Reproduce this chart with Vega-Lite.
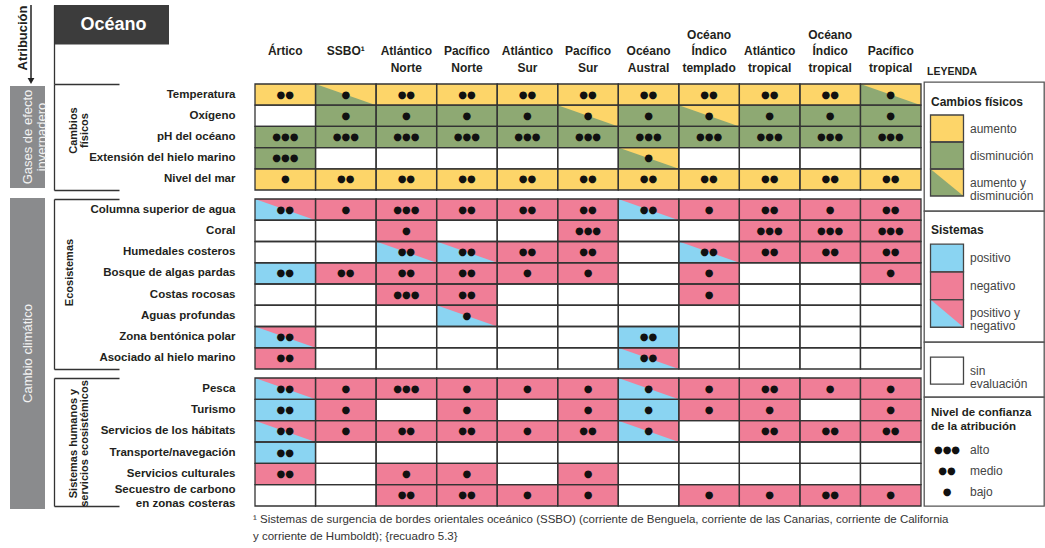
{
"$schema": "https://vega.github.io/schema/vega-lite/v6.json",
"padding": {"left": 10, "top": 4, "right": 0, "bottom": 0},
"background": "white",
"title": {"text": ["¹ Sistemas de surgencia de bordes orientales oceánico (SSBO) (corriente de Benguela, corriente de las Canarias, corriente de California", "y corriente de Humboldt); {recuadro 5.3}"], "orient": "bottom", "anchor": "start", "frame": "group", "fontSize": 11.5, "fontWeight": "normal", "color": "#333333", "offset": 5, "lineHeight": 17, "dx": 243},
"config": {
  "view": {"stroke": null},
  "font": "Liberation Sans",
  "axis": {"labelFont": "Liberation Sans", "labelColor": "#231f20", "labelFontWeight": "bold", "ticks": false, "domain": false, "tickSize": 0, "grid": false},
  "text": {"color": "#231f20", "font": "Liberation Sans"},
  "title": {"font": "Liberation Sans"}
},
"datasets": {
  "niveles": [{"confianza": "alto", "puntos": "●●●"}, {"confianza": "medio", "puntos": "●●"}, {"confianza": "bajo", "puntos": "●"}],
  "fisicos": [
    {"oceano":"Ártico","elemento":"Temperatura","estado":"aumento","confianza":"medio"},
    {"oceano":"SSBO¹","elemento":"Temperatura","estado":"aumento y disminución","confianza":"bajo"},
    {"oceano":"Atlántico Norte","elemento":"Temperatura","estado":"aumento","confianza":"medio"},
    {"oceano":"Pacífico Norte","elemento":"Temperatura","estado":"aumento","confianza":"medio"},
    {"oceano":"Atlántico Sur","elemento":"Temperatura","estado":"aumento","confianza":"medio"},
    {"oceano":"Pacífico Sur","elemento":"Temperatura","estado":"aumento","confianza":"medio"},
    {"oceano":"Océano Austral","elemento":"Temperatura","estado":"aumento","confianza":"medio"},
    {"oceano":"Océano Índico templado","elemento":"Temperatura","estado":"aumento","confianza":"medio"},
    {"oceano":"Atlántico tropical","elemento":"Temperatura","estado":"aumento","confianza":"medio"},
    {"oceano":"Océano Índico tropical","elemento":"Temperatura","estado":"aumento","confianza":"medio"},
    {"oceano":"Pacífico tropical","elemento":"Temperatura","estado":"aumento y disminución","confianza":"bajo"},
    {"oceano":"Ártico","elemento":"Oxígeno","estado":"sin evaluación"},
    {"oceano":"SSBO¹","elemento":"Oxígeno","estado":"disminución","confianza":"bajo"},
    {"oceano":"Atlántico Norte","elemento":"Oxígeno","estado":"disminución","confianza":"bajo"},
    {"oceano":"Pacífico Norte","elemento":"Oxígeno","estado":"disminución","confianza":"bajo"},
    {"oceano":"Atlántico Sur","elemento":"Oxígeno","estado":"disminución","confianza":"bajo"},
    {"oceano":"Pacífico Sur","elemento":"Oxígeno","estado":"aumento y disminución","confianza":"bajo"},
    {"oceano":"Océano Austral","elemento":"Oxígeno","estado":"disminución","confianza":"bajo"},
    {"oceano":"Océano Índico templado","elemento":"Oxígeno","estado":"aumento y disminución","confianza":"bajo"},
    {"oceano":"Atlántico tropical","elemento":"Oxígeno","estado":"disminución","confianza":"bajo"},
    {"oceano":"Océano Índico tropical","elemento":"Oxígeno","estado":"disminución","confianza":"bajo"},
    {"oceano":"Pacífico tropical","elemento":"Oxígeno","estado":"disminución","confianza":"bajo"},
    {"oceano":"Ártico","elemento":"pH del océano","estado":"disminución","confianza":"alto"},
    {"oceano":"SSBO¹","elemento":"pH del océano","estado":"disminución","confianza":"alto"},
    {"oceano":"Atlántico Norte","elemento":"pH del océano","estado":"disminución","confianza":"alto"},
    {"oceano":"Pacífico Norte","elemento":"pH del océano","estado":"disminución","confianza":"alto"},
    {"oceano":"Atlántico Sur","elemento":"pH del océano","estado":"disminución","confianza":"alto"},
    {"oceano":"Pacífico Sur","elemento":"pH del océano","estado":"disminución","confianza":"alto"},
    {"oceano":"Océano Austral","elemento":"pH del océano","estado":"disminución","confianza":"alto"},
    {"oceano":"Océano Índico templado","elemento":"pH del océano","estado":"disminución","confianza":"alto"},
    {"oceano":"Atlántico tropical","elemento":"pH del océano","estado":"disminución","confianza":"alto"},
    {"oceano":"Océano Índico tropical","elemento":"pH del océano","estado":"disminución","confianza":"alto"},
    {"oceano":"Pacífico tropical","elemento":"pH del océano","estado":"disminución","confianza":"alto"},
    {"oceano":"Ártico","elemento":"Extensión del hielo marino","estado":"disminución","confianza":"alto"},
    {"oceano":"SSBO¹","elemento":"Extensión del hielo marino","estado":"sin evaluación"},
    {"oceano":"Atlántico Norte","elemento":"Extensión del hielo marino","estado":"sin evaluación"},
    {"oceano":"Pacífico Norte","elemento":"Extensión del hielo marino","estado":"sin evaluación"},
    {"oceano":"Atlántico Sur","elemento":"Extensión del hielo marino","estado":"sin evaluación"},
    {"oceano":"Pacífico Sur","elemento":"Extensión del hielo marino","estado":"sin evaluación"},
    {"oceano":"Océano Austral","elemento":"Extensión del hielo marino","estado":"aumento y disminución","confianza":"bajo"},
    {"oceano":"Océano Índico templado","elemento":"Extensión del hielo marino","estado":"sin evaluación"},
    {"oceano":"Atlántico tropical","elemento":"Extensión del hielo marino","estado":"sin evaluación"},
    {"oceano":"Océano Índico tropical","elemento":"Extensión del hielo marino","estado":"sin evaluación"},
    {"oceano":"Pacífico tropical","elemento":"Extensión del hielo marino","estado":"sin evaluación"},
    {"oceano":"Ártico","elemento":"Nivel del mar","estado":"aumento","confianza":"bajo"},
    {"oceano":"SSBO¹","elemento":"Nivel del mar","estado":"aumento","confianza":"medio"},
    {"oceano":"Atlántico Norte","elemento":"Nivel del mar","estado":"aumento","confianza":"medio"},
    {"oceano":"Pacífico Norte","elemento":"Nivel del mar","estado":"aumento","confianza":"medio"},
    {"oceano":"Atlántico Sur","elemento":"Nivel del mar","estado":"aumento","confianza":"medio"},
    {"oceano":"Pacífico Sur","elemento":"Nivel del mar","estado":"aumento","confianza":"medio"},
    {"oceano":"Océano Austral","elemento":"Nivel del mar","estado":"aumento","confianza":"medio"},
    {"oceano":"Océano Índico templado","elemento":"Nivel del mar","estado":"aumento","confianza":"medio"},
    {"oceano":"Atlántico tropical","elemento":"Nivel del mar","estado":"aumento","confianza":"medio"},
    {"oceano":"Océano Índico tropical","elemento":"Nivel del mar","estado":"aumento","confianza":"medio"},
    {"oceano":"Pacífico tropical","elemento":"Nivel del mar","estado":"aumento","confianza":"medio"}
  ],
  "ecosistemas": [
    {"oceano":"Ártico","elemento":"Columna superior de agua","estado":"positivo y negativo","confianza":"medio"},
    {"oceano":"SSBO¹","elemento":"Columna superior de agua","estado":"negativo","confianza":"bajo"},
    {"oceano":"Atlántico Norte","elemento":"Columna superior de agua","estado":"negativo","confianza":"alto"},
    {"oceano":"Pacífico Norte","elemento":"Columna superior de agua","estado":"negativo","confianza":"medio"},
    {"oceano":"Atlántico Sur","elemento":"Columna superior de agua","estado":"negativo","confianza":"medio"},
    {"oceano":"Pacífico Sur","elemento":"Columna superior de agua","estado":"negativo","confianza":"medio"},
    {"oceano":"Océano Austral","elemento":"Columna superior de agua","estado":"positivo y negativo","confianza":"medio"},
    {"oceano":"Océano Índico templado","elemento":"Columna superior de agua","estado":"negativo","confianza":"bajo"},
    {"oceano":"Atlántico tropical","elemento":"Columna superior de agua","estado":"negativo","confianza":"medio"},
    {"oceano":"Océano Índico tropical","elemento":"Columna superior de agua","estado":"negativo","confianza":"bajo"},
    {"oceano":"Pacífico tropical","elemento":"Columna superior de agua","estado":"negativo","confianza":"medio"},
    {"oceano":"Ártico","elemento":"Coral","estado":"sin evaluación"},
    {"oceano":"SSBO¹","elemento":"Coral","estado":"sin evaluación"},
    {"oceano":"Atlántico Norte","elemento":"Coral","estado":"negativo","confianza":"bajo"},
    {"oceano":"Pacífico Norte","elemento":"Coral","estado":"sin evaluación"},
    {"oceano":"Atlántico Sur","elemento":"Coral","estado":"sin evaluación"},
    {"oceano":"Pacífico Sur","elemento":"Coral","estado":"negativo","confianza":"alto"},
    {"oceano":"Océano Austral","elemento":"Coral","estado":"sin evaluación"},
    {"oceano":"Océano Índico templado","elemento":"Coral","estado":"sin evaluación"},
    {"oceano":"Atlántico tropical","elemento":"Coral","estado":"negativo","confianza":"alto"},
    {"oceano":"Océano Índico tropical","elemento":"Coral","estado":"negativo","confianza":"alto"},
    {"oceano":"Pacífico tropical","elemento":"Coral","estado":"negativo","confianza":"alto"},
    {"oceano":"Ártico","elemento":"Humedales costeros","estado":"sin evaluación"},
    {"oceano":"SSBO¹","elemento":"Humedales costeros","estado":"sin evaluación"},
    {"oceano":"Atlántico Norte","elemento":"Humedales costeros","estado":"positivo y negativo","confianza":"medio"},
    {"oceano":"Pacífico Norte","elemento":"Humedales costeros","estado":"positivo y negativo","confianza":"medio"},
    {"oceano":"Atlántico Sur","elemento":"Humedales costeros","estado":"negativo","confianza":"medio"},
    {"oceano":"Pacífico Sur","elemento":"Humedales costeros","estado":"negativo","confianza":"medio"},
    {"oceano":"Océano Austral","elemento":"Humedales costeros","estado":"sin evaluación"},
    {"oceano":"Océano Índico templado","elemento":"Humedales costeros","estado":"positivo y negativo","confianza":"medio"},
    {"oceano":"Atlántico tropical","elemento":"Humedales costeros","estado":"negativo","confianza":"medio"},
    {"oceano":"Océano Índico tropical","elemento":"Humedales costeros","estado":"negativo","confianza":"medio"},
    {"oceano":"Pacífico tropical","elemento":"Humedales costeros","estado":"negativo","confianza":"medio"},
    {"oceano":"Ártico","elemento":"Bosque de algas pardas","estado":"positivo","confianza":"medio"},
    {"oceano":"SSBO¹","elemento":"Bosque de algas pardas","estado":"negativo","confianza":"medio"},
    {"oceano":"Atlántico Norte","elemento":"Bosque de algas pardas","estado":"negativo","confianza":"medio"},
    {"oceano":"Pacífico Norte","elemento":"Bosque de algas pardas","estado":"negativo","confianza":"medio"},
    {"oceano":"Atlántico Sur","elemento":"Bosque de algas pardas","estado":"negativo","confianza":"bajo"},
    {"oceano":"Pacífico Sur","elemento":"Bosque de algas pardas","estado":"negativo","confianza":"bajo"},
    {"oceano":"Océano Austral","elemento":"Bosque de algas pardas","estado":"sin evaluación"},
    {"oceano":"Océano Índico templado","elemento":"Bosque de algas pardas","estado":"negativo","confianza":"bajo"},
    {"oceano":"Atlántico tropical","elemento":"Bosque de algas pardas","estado":"sin evaluación"},
    {"oceano":"Océano Índico tropical","elemento":"Bosque de algas pardas","estado":"sin evaluación"},
    {"oceano":"Pacífico tropical","elemento":"Bosque de algas pardas","estado":"negativo","confianza":"bajo"},
    {"oceano":"Ártico","elemento":"Costas rocosas","estado":"sin evaluación"},
    {"oceano":"SSBO¹","elemento":"Costas rocosas","estado":"sin evaluación"},
    {"oceano":"Atlántico Norte","elemento":"Costas rocosas","estado":"negativo","confianza":"alto"},
    {"oceano":"Pacífico Norte","elemento":"Costas rocosas","estado":"negativo","confianza":"medio"},
    {"oceano":"Atlántico Sur","elemento":"Costas rocosas","estado":"sin evaluación"},
    {"oceano":"Pacífico Sur","elemento":"Costas rocosas","estado":"sin evaluación"},
    {"oceano":"Océano Austral","elemento":"Costas rocosas","estado":"sin evaluación"},
    {"oceano":"Océano Índico templado","elemento":"Costas rocosas","estado":"negativo","confianza":"bajo"},
    {"oceano":"Atlántico tropical","elemento":"Costas rocosas","estado":"sin evaluación"},
    {"oceano":"Océano Índico tropical","elemento":"Costas rocosas","estado":"sin evaluación"},
    {"oceano":"Pacífico tropical","elemento":"Costas rocosas","estado":"sin evaluación"},
    {"oceano":"Ártico","elemento":"Aguas profundas","estado":"sin evaluación"},
    {"oceano":"SSBO¹","elemento":"Aguas profundas","estado":"sin evaluación"},
    {"oceano":"Atlántico Norte","elemento":"Aguas profundas","estado":"sin evaluación"},
    {"oceano":"Pacífico Norte","elemento":"Aguas profundas","estado":"positivo y negativo","confianza":"bajo"},
    {"oceano":"Atlántico Sur","elemento":"Aguas profundas","estado":"sin evaluación"},
    {"oceano":"Pacífico Sur","elemento":"Aguas profundas","estado":"sin evaluación"},
    {"oceano":"Océano Austral","elemento":"Aguas profundas","estado":"sin evaluación"},
    {"oceano":"Océano Índico templado","elemento":"Aguas profundas","estado":"sin evaluación"},
    {"oceano":"Atlántico tropical","elemento":"Aguas profundas","estado":"sin evaluación"},
    {"oceano":"Océano Índico tropical","elemento":"Aguas profundas","estado":"sin evaluación"},
    {"oceano":"Pacífico tropical","elemento":"Aguas profundas","estado":"sin evaluación"},
    {"oceano":"Ártico","elemento":"Zona bentónica polar","estado":"positivo y negativo","confianza":"medio"},
    {"oceano":"SSBO¹","elemento":"Zona bentónica polar","estado":"sin evaluación"},
    {"oceano":"Atlántico Norte","elemento":"Zona bentónica polar","estado":"sin evaluación"},
    {"oceano":"Pacífico Norte","elemento":"Zona bentónica polar","estado":"sin evaluación"},
    {"oceano":"Atlántico Sur","elemento":"Zona bentónica polar","estado":"sin evaluación"},
    {"oceano":"Pacífico Sur","elemento":"Zona bentónica polar","estado":"sin evaluación"},
    {"oceano":"Océano Austral","elemento":"Zona bentónica polar","estado":"positivo","confianza":"medio"},
    {"oceano":"Océano Índico templado","elemento":"Zona bentónica polar","estado":"sin evaluación"},
    {"oceano":"Atlántico tropical","elemento":"Zona bentónica polar","estado":"sin evaluación"},
    {"oceano":"Océano Índico tropical","elemento":"Zona bentónica polar","estado":"sin evaluación"},
    {"oceano":"Pacífico tropical","elemento":"Zona bentónica polar","estado":"sin evaluación"},
    {"oceano":"Ártico","elemento":"Asociado al hielo marino","estado":"negativo","confianza":"medio"},
    {"oceano":"SSBO¹","elemento":"Asociado al hielo marino","estado":"sin evaluación"},
    {"oceano":"Atlántico Norte","elemento":"Asociado al hielo marino","estado":"sin evaluación"},
    {"oceano":"Pacífico Norte","elemento":"Asociado al hielo marino","estado":"sin evaluación"},
    {"oceano":"Atlántico Sur","elemento":"Asociado al hielo marino","estado":"sin evaluación"},
    {"oceano":"Pacífico Sur","elemento":"Asociado al hielo marino","estado":"sin evaluación"},
    {"oceano":"Océano Austral","elemento":"Asociado al hielo marino","estado":"positivo y negativo","confianza":"medio"},
    {"oceano":"Océano Índico templado","elemento":"Asociado al hielo marino","estado":"sin evaluación"},
    {"oceano":"Atlántico tropical","elemento":"Asociado al hielo marino","estado":"sin evaluación"},
    {"oceano":"Océano Índico tropical","elemento":"Asociado al hielo marino","estado":"sin evaluación"},
    {"oceano":"Pacífico tropical","elemento":"Asociado al hielo marino","estado":"sin evaluación"}
  ],
  "humanos": [
    {"oceano":"Ártico","elemento":"Pesca","estado":"positivo y negativo","confianza":"medio"},
    {"oceano":"SSBO¹","elemento":"Pesca","estado":"negativo","confianza":"bajo"},
    {"oceano":"Atlántico Norte","elemento":"Pesca","estado":"negativo","confianza":"alto"},
    {"oceano":"Pacífico Norte","elemento":"Pesca","estado":"negativo","confianza":"bajo"},
    {"oceano":"Atlántico Sur","elemento":"Pesca","estado":"negativo","confianza":"bajo"},
    {"oceano":"Pacífico Sur","elemento":"Pesca","estado":"negativo","confianza":"bajo"},
    {"oceano":"Océano Austral","elemento":"Pesca","estado":"positivo y negativo","confianza":"bajo"},
    {"oceano":"Océano Índico templado","elemento":"Pesca","estado":"negativo","confianza":"bajo"},
    {"oceano":"Atlántico tropical","elemento":"Pesca","estado":"negativo","confianza":"medio"},
    {"oceano":"Océano Índico tropical","elemento":"Pesca","estado":"negativo","confianza":"bajo"},
    {"oceano":"Pacífico tropical","elemento":"Pesca","estado":"negativo","confianza":"bajo"},
    {"oceano":"Ártico","elemento":"Turismo","estado":"positivo","confianza":"medio"},
    {"oceano":"SSBO¹","elemento":"Turismo","estado":"negativo","confianza":"bajo"},
    {"oceano":"Atlántico Norte","elemento":"Turismo","estado":"sin evaluación"},
    {"oceano":"Pacífico Norte","elemento":"Turismo","estado":"negativo","confianza":"bajo"},
    {"oceano":"Atlántico Sur","elemento":"Turismo","estado":"sin evaluación"},
    {"oceano":"Pacífico Sur","elemento":"Turismo","estado":"negativo","confianza":"bajo"},
    {"oceano":"Océano Austral","elemento":"Turismo","estado":"positivo","confianza":"bajo"},
    {"oceano":"Océano Índico templado","elemento":"Turismo","estado":"negativo","confianza":"bajo"},
    {"oceano":"Atlántico tropical","elemento":"Turismo","estado":"negativo","confianza":"bajo"},
    {"oceano":"Océano Índico tropical","elemento":"Turismo","estado":"sin evaluación"},
    {"oceano":"Pacífico tropical","elemento":"Turismo","estado":"negativo","confianza":"bajo"},
    {"oceano":"Ártico","elemento":"Servicios de los hábitats","estado":"positivo y negativo","confianza":"medio"},
    {"oceano":"SSBO¹","elemento":"Servicios de los hábitats","estado":"negativo","confianza":"bajo"},
    {"oceano":"Atlántico Norte","elemento":"Servicios de los hábitats","estado":"negativo","confianza":"medio"},
    {"oceano":"Pacífico Norte","elemento":"Servicios de los hábitats","estado":"negativo","confianza":"medio"},
    {"oceano":"Atlántico Sur","elemento":"Servicios de los hábitats","estado":"negativo","confianza":"bajo"},
    {"oceano":"Pacífico Sur","elemento":"Servicios de los hábitats","estado":"negativo","confianza":"medio"},
    {"oceano":"Océano Austral","elemento":"Servicios de los hábitats","estado":"positivo y negativo","confianza":"bajo"},
    {"oceano":"Océano Índico templado","elemento":"Servicios de los hábitats","estado":"sin evaluación"},
    {"oceano":"Atlántico tropical","elemento":"Servicios de los hábitats","estado":"negativo","confianza":"medio"},
    {"oceano":"Océano Índico tropical","elemento":"Servicios de los hábitats","estado":"negativo","confianza":"medio"},
    {"oceano":"Pacífico tropical","elemento":"Servicios de los hábitats","estado":"negativo","confianza":"medio"},
    {"oceano":"Ártico","elemento":"Transporte/navegación","estado":"positivo","confianza":"medio"},
    {"oceano":"SSBO¹","elemento":"Transporte/navegación","estado":"sin evaluación"},
    {"oceano":"Atlántico Norte","elemento":"Transporte/navegación","estado":"sin evaluación"},
    {"oceano":"Pacífico Norte","elemento":"Transporte/navegación","estado":"sin evaluación"},
    {"oceano":"Atlántico Sur","elemento":"Transporte/navegación","estado":"sin evaluación"},
    {"oceano":"Pacífico Sur","elemento":"Transporte/navegación","estado":"sin evaluación"},
    {"oceano":"Océano Austral","elemento":"Transporte/navegación","estado":"sin evaluación"},
    {"oceano":"Océano Índico templado","elemento":"Transporte/navegación","estado":"sin evaluación"},
    {"oceano":"Atlántico tropical","elemento":"Transporte/navegación","estado":"sin evaluación"},
    {"oceano":"Océano Índico tropical","elemento":"Transporte/navegación","estado":"sin evaluación"},
    {"oceano":"Pacífico tropical","elemento":"Transporte/navegación","estado":"sin evaluación"},
    {"oceano":"Ártico","elemento":"Servicios culturales","estado":"negativo","confianza":"medio"},
    {"oceano":"SSBO¹","elemento":"Servicios culturales","estado":"sin evaluación"},
    {"oceano":"Atlántico Norte","elemento":"Servicios culturales","estado":"negativo","confianza":"bajo"},
    {"oceano":"Pacífico Norte","elemento":"Servicios culturales","estado":"negativo","confianza":"bajo"},
    {"oceano":"Atlántico Sur","elemento":"Servicios culturales","estado":"sin evaluación"},
    {"oceano":"Pacífico Sur","elemento":"Servicios culturales","estado":"negativo","confianza":"bajo"},
    {"oceano":"Océano Austral","elemento":"Servicios culturales","estado":"sin evaluación"},
    {"oceano":"Océano Índico templado","elemento":"Servicios culturales","estado":"sin evaluación"},
    {"oceano":"Atlántico tropical","elemento":"Servicios culturales","estado":"sin evaluación"},
    {"oceano":"Océano Índico tropical","elemento":"Servicios culturales","estado":"sin evaluación"},
    {"oceano":"Pacífico tropical","elemento":"Servicios culturales","estado":"sin evaluación"},
    {"oceano":"Ártico","elemento":"Secuestro de carbono en zonas costeras","estado":"sin evaluación"},
    {"oceano":"SSBO¹","elemento":"Secuestro de carbono en zonas costeras","estado":"sin evaluación"},
    {"oceano":"Atlántico Norte","elemento":"Secuestro de carbono en zonas costeras","estado":"negativo","confianza":"medio"},
    {"oceano":"Pacífico Norte","elemento":"Secuestro de carbono en zonas costeras","estado":"negativo","confianza":"medio"},
    {"oceano":"Atlántico Sur","elemento":"Secuestro de carbono en zonas costeras","estado":"negativo","confianza":"bajo"},
    {"oceano":"Pacífico Sur","elemento":"Secuestro de carbono en zonas costeras","estado":"negativo","confianza":"bajo"},
    {"oceano":"Océano Austral","elemento":"Secuestro de carbono en zonas costeras","estado":"sin evaluación"},
    {"oceano":"Océano Índico templado","elemento":"Secuestro de carbono en zonas costeras","estado":"negativo","confianza":"bajo"},
    {"oceano":"Atlántico tropical","elemento":"Secuestro de carbono en zonas costeras","estado":"negativo","confianza":"bajo"},
    {"oceano":"Océano Índico tropical","elemento":"Secuestro de carbono en zonas costeras","estado":"negativo","confianza":"medio"},
    {"oceano":"Pacífico tropical","elemento":"Secuestro de carbono en zonas costeras","estado":"negativo","confianza":"bajo"}
  ],
  "leyenda": [
    {"seccion":"fisicos","fila":"Cambios físicos","tipo":"titulo","texto":"Cambios físicos"},
    {"seccion":"fisicos","fila":"aumento","tipo":"muestra","estado":"aumento","texto":"aumento"},
    {"seccion":"fisicos","fila":"disminución","tipo":"muestra","estado":"disminución","texto":"disminución"},
    {"seccion":"fisicos","fila":"aumento y disminución","tipo":"muestra","estado":"aumento y disminución","texto":["aumento y","disminución"]},
    {"seccion":"sistemas","fila":"Sistemas","tipo":"titulo","texto":"Sistemas"},
    {"seccion":"sistemas","fila":"positivo","tipo":"muestra","estado":"positivo","texto":"positivo"},
    {"seccion":"sistemas","fila":"negativo","tipo":"muestra","estado":"negativo","texto":"negativo"},
    {"seccion":"sistemas","fila":"positivo y negativo","tipo":"muestra","estado":"positivo y negativo","texto":["positivo y","negativo"]},
    {"seccion":"sin","fila":"sin evaluación","tipo":"muestra","estado":"sin evaluación","texto":["sin","evaluación"]},
    {"seccion":"confianza","fila":"Nivel de confianza de la atribución","tipo":"titulo","texto":["Nivel de confianza","de la atribución"]},
    {"seccion":"confianza","fila":"alto","tipo":"nivel","confianza":"alto","texto":"alto"},
    {"seccion":"confianza","fila":"medio","tipo":"nivel","confianza":"medio","texto":"medio"},
    {"seccion":"confianza","fila":"bajo","tipo":"nivel","confianza":"bajo","texto":"bajo"}
  ]
},
"hconcat": [
  {
    "vconcat": [
      {
        "width": 21, "height": 76,
        "data": {"values": [{"texto": "Atribución"}]},
        "layer": [
          {"mark": {"type": "rule", "color": "#222222", "strokeWidth": 1.5}, "encoding": {"x": {"datum": 1, "type": "quantitative", "scale": {"domain": [0, 1]}, "axis": null}}},
          {"mark": {"type": "point", "shape": "triangle-down", "filled": true, "opacity": 1, "color": "#222222", "size": 45}, "encoding": {"x": {"datum": 1, "type": "quantitative", "scale": {"domain": [0, 1]}, "axis": null}, "y": {"datum": 0, "type": "quantitative", "scale": {"domain": [0, 1]}, "axis": null}}},
          {"mark": {"type": "text", "angle": -90, "fontWeight": "bold", "fontSize": 13, "dx": 5, "dy": 2}, "encoding": {"text": {"field": "texto", "type": "nominal"}}}
        ]
      },
      {"width": 42, "height": 5, "data": {"values": []}, "mark": "point"},
      {
        "width": 35, "height": 102,
        "view": {"fill": "#8a8b8d", "stroke": null},
        "data": {"values": [{"texto": ["Gases de efecto", "invernadero"]}]},
        "mark": {"type": "text", "angle": -90, "color": "#f2f2f2", "fontSize": 13, "lineHeight": 14},
        "encoding": {"text": {"field": "texto", "type": "nominal"}}
      },
      {"width": 42, "height": 10, "data": {"values": []}, "mark": "point"},
      {
        "width": 35, "height": 311,
        "view": {"fill": "#8a8b8d", "stroke": null},
        "data": {"values": [{"texto": "Cambio climático"}]},
        "mark": {"type": "text", "angle": -90, "color": "#f2f2f2", "fontSize": 13},
        "encoding": {"text": {"field": "texto", "type": "nominal"}}
      }
    ],
    "spacing": 0, "bounds": "flush"
  },
  {
    "vconcat": [
      {
        "width": 115, "height": 79,
        "data": {"values": [{"parte": "Océano"}]},
        "encoding": {"y": {"field": "parte", "type": "nominal", "scale": {"domain": ["Océano", "—"], "paddingInner": 0, "paddingOuter": 0}, "axis": {"title": null, "domain": true, "domainColor": "#333333", "domainWidth": 1.3, "labels": false}}},
        "layer": [
          {"mark": {"type": "rect", "color": "#3c3c3c"}},
          {"mark": {"type": "text", "color": "#ffffff", "fontSize": 18, "fontWeight": "bold", "dx": 2}, "encoding": {"text": {"field": "parte", "type": "nominal"}}}
        ]
      },
      {
        "width": 867, "height": 106,
        "data": {"name": "fisicos"},
        "transform": [{"lookup": "confianza", "from": {"data": {"name": "niveles"}, "key": "confianza", "fields": ["puntos"]}}],
        "layer": [
          {
            "encoding": {
              "x": {"field": "oceano", "type": "nominal", "scale": {"domain": ["Ártico","SSBO¹","Atlántico Norte","Pacífico Norte","Atlántico Sur","Pacífico Sur","Océano Austral","Océano Índico templado","Atlántico tropical","Océano Índico tropical","Pacífico tropical"], "range": [201, 867], "paddingInner": 0, "paddingOuter": 0}, "axis": {"orient": "top", "title": null, "labelAngle": 0, "labelExpr": "length(split(datum.value, ' ')) == 1 ? ['\u00a0', '\u00a0', datum.value] : length(split(datum.value, ' ')) == 2 ? ['\u00a0', split(datum.value, ' ')[0], split(datum.value, ' ')[1]] : split(datum.value, ' ')", "labelFontSize": 12, "labelLineHeight": 16.5, "labelPadding": 43, "labelLimit": 0, "labelBaseline": "bottom"}},
              "y": {"field": "elemento", "type": "nominal", "scale": {"domain": ["Temperatura","Oxígeno","pH del océano","Extensión del hielo marino","Nivel del mar"], "paddingInner": 0, "paddingOuter": 0}, "axis": {"orient": "left", "title": ["Cambios", "físicos"], "titleX": 19, "titleY": 46, "titleAngle": -90, "titleAlign": "center", "titleBaseline": "middle", "titleFontSize": 11, "titleFontWeight": "bold", "titleLineHeight": 11, "titleColor": "#231f20", "labelAlign": "right", "labelPadding": -181, "labelFontSize": 11.5, "labelLimit": 0, "domain": true, "domainColor": "#333333", "domainWidth": 1.3}}
            },
            "layer": [
              {"mark": {"type": "rect", "strokeWidth": 0}, "encoding": {"fill": {"field": "estado", "type": "nominal", "scale": {"domain": ["aumento","disminución","aumento y disminución","positivo","negativo","positivo y negativo","sin evaluación"], "range": ["#FDD569","#8EA973","#8EA973","#8AD4F2","#F07E97","#8AD4F2","#FFFFFF"]}, "legend": null}}},
              {"transform": [{"filter": {"field": "estado", "oneOf": ["aumento y disminución", "positivo y negativo"]}}], "mark": {"type": "point", "shape": "M-1,-0.35L1,-0.35L1,0.35Z", "size": 3666, "filled": true, "opacity": 1, "strokeWidth": 0}, "encoding": {"color": {"field": "estado", "type": "nominal", "scale": {"domain": ["aumento y disminución", "positivo y negativo"], "range": ["#FDD569", "#F07E97"]}, "legend": null}}},
              {"mark": {"type": "rect", "fillOpacity": 0, "stroke": "#333333", "strokeWidth": 1.3}},
              {"transform": [{"filter": "isValid(datum.puntos)"}], "mark": {"type": "text", "font": "DejaVu Sans", "fontSize": 10, "color": "#111111"}, "encoding": {"text": {"field": "puntos", "type": "nominal"}}}
            ]
          },
          {"mark": {"type": "point", "opacity": 0}, "encoding": {"y": {"datum": 0.5, "type": "quantitative", "scale": {"domain": [0, 1]}, "axis": {"orient": "right", "offset": -867, "values": [0, 1], "ticks": true, "tickSize": 65, "tickWidth": 1.3, "tickColor": "#333333", "labels": false, "domain": false, "title": null}}}}
        ],
        "resolve": {"scale": {"y": "independent"}, "axis": {"y": "independent"}}
      },
      {"width": 1, "height": 9, "data": {"values": []}, "mark": "point"},
      {
        "width": 867, "height": 170,
        "data": {"name": "ecosistemas"},
        "transform": [{"lookup": "confianza", "from": {"data": {"name": "niveles"}, "key": "confianza", "fields": ["puntos"]}}],
        "layer": [
          {
            "encoding": {
              "x": {"field": "oceano", "type": "nominal", "scale": {"domain": ["Ártico","SSBO¹","Atlántico Norte","Pacífico Norte","Atlántico Sur","Pacífico Sur","Océano Austral","Océano Índico templado","Atlántico tropical","Océano Índico tropical","Pacífico tropical"], "range": [201, 867], "paddingInner": 0, "paddingOuter": 0}, "axis": null},
              "y": {"field": "elemento", "type": "nominal", "scale": {"domain": ["Columna superior de agua","Coral","Humedales costeros","Bosque de algas pardas","Costas rocosas","Aguas profundas","Zona bentónica polar","Asociado al hielo marino"], "paddingInner": 0, "paddingOuter": 0}, "axis": {"orient": "left", "title": "Ecosistemas", "titleX": 15, "titleY": 73, "titleAngle": -90, "titleAlign": "center", "titleBaseline": "middle", "titleFontSize": 11, "titleFontWeight": "bold", "titleColor": "#231f20", "labelAlign": "right", "labelPadding": -181, "labelFontSize": 11.5, "labelLimit": 0, "domain": true, "domainColor": "#333333", "domainWidth": 1.3}}
            },
            "layer": [
              {"mark": {"type": "rect", "strokeWidth": 0}, "encoding": {"fill": {"field": "estado", "type": "nominal", "scale": {"domain": ["aumento","disminución","aumento y disminución","positivo","negativo","positivo y negativo","sin evaluación"], "range": ["#FDD569","#8EA973","#8EA973","#8AD4F2","#F07E97","#8AD4F2","#FFFFFF"]}, "legend": null}}},
              {"transform": [{"filter": {"field": "estado", "oneOf": ["aumento y disminución", "positivo y negativo"]}}], "mark": {"type": "point", "shape": "M-1,-0.351L1,-0.351L1,0.351Z", "size": 3666, "filled": true, "opacity": 1, "strokeWidth": 0}, "encoding": {"color": {"field": "estado", "type": "nominal", "scale": {"domain": ["aumento y disminución", "positivo y negativo"], "range": ["#FDD569", "#F07E97"]}, "legend": null}}},
              {"mark": {"type": "rect", "fillOpacity": 0, "stroke": "#333333", "strokeWidth": 1.3}},
              {"transform": [{"filter": "isValid(datum.puntos)"}], "mark": {"type": "text", "font": "DejaVu Sans", "fontSize": 10, "color": "#111111"}, "encoding": {"text": {"field": "puntos", "type": "nominal"}}}
            ]
          },
          {"mark": {"type": "point", "opacity": 0}, "encoding": {"y": {"datum": 0.5, "type": "quantitative", "scale": {"domain": [0, 1]}, "axis": {"orient": "right", "offset": -867, "values": [0, 1], "ticks": true, "tickSize": 65, "tickWidth": 1.3, "tickColor": "#333333", "labels": false, "domain": false, "title": null}}}}
        ],
        "resolve": {"scale": {"y": "independent"}, "axis": {"y": "independent"}}
      },
      {"width": 1, "height": 9, "data": {"values": []}, "mark": "point"},
      {
        "width": 867, "height": 128,
        "data": {"name": "humanos"},
        "transform": [{"lookup": "confianza", "from": {"data": {"name": "niveles"}, "key": "confianza", "fields": ["puntos"]}}],
        "layer": [
          {
            "encoding": {
              "x": {"field": "oceano", "type": "nominal", "scale": {"domain": ["Ártico","SSBO¹","Atlántico Norte","Pacífico Norte","Atlántico Sur","Pacífico Sur","Océano Austral","Océano Índico templado","Atlántico tropical","Océano Índico tropical","Pacífico tropical"], "range": [201, 867], "paddingInner": 0, "paddingOuter": 0}, "axis": null},
              "y": {"field": "elemento", "type": "nominal", "scale": {"domain": ["Pesca","Turismo","Servicios de los hábitats","Transporte/navegación","Servicios culturales","Secuestro de carbono en zonas costeras"], "paddingInner": 0, "paddingOuter": 0}, "axis": {"orient": "left", "title": ["Sistemas humanos y", "servicios ecosistémicos"], "titleX": 19, "titleY": 65, "titleAngle": -90, "titleAlign": "center", "titleBaseline": "middle", "titleFontSize": 11, "titleFontWeight": "bold", "titleLineHeight": 11, "titleColor": "#231f20", "labelAlign": "right", "labelPadding": -181, "labelFontSize": 11.5, "labelLimit": 0, "labelLineHeight": 14, "labelBaseline": {"condition": {"test": "datum.value == 'Secuestro de carbono en zonas costeras'", "value": "bottom"}, "value": "middle"}, "labelExpr": "datum.value == 'Secuestro de carbono en zonas costeras' ? ['Secuestro de carbono', 'en zonas costeras'] : datum.value", "domain": true, "domainColor": "#333333", "domainWidth": 1.3}}
            },
            "layer": [
              {"mark": {"type": "rect", "strokeWidth": 0}, "encoding": {"fill": {"field": "estado", "type": "nominal", "scale": {"domain": ["aumento","disminución","aumento y disminución","positivo","negativo","positivo y negativo","sin evaluación"], "range": ["#FDD569","#8EA973","#8EA973","#8AD4F2","#F07E97","#8AD4F2","#FFFFFF"]}, "legend": null}}},
              {"transform": [{"filter": {"field": "estado", "oneOf": ["aumento y disminución", "positivo y negativo"]}}], "mark": {"type": "point", "shape": "M-1,-0.352L1,-0.352L1,0.352Z", "size": 3666, "filled": true, "opacity": 1, "strokeWidth": 0}, "encoding": {"color": {"field": "estado", "type": "nominal", "scale": {"domain": ["aumento y disminución", "positivo y negativo"], "range": ["#FDD569", "#F07E97"]}, "legend": null}}},
              {"mark": {"type": "rect", "fillOpacity": 0, "stroke": "#333333", "strokeWidth": 1.3}},
              {"transform": [{"filter": "isValid(datum.puntos)"}], "mark": {"type": "text", "font": "DejaVu Sans", "fontSize": 10, "color": "#111111"}, "encoding": {"text": {"field": "puntos", "type": "nominal"}}}
            ]
          },
          {"mark": {"type": "point", "opacity": 0}, "encoding": {"y": {"datum": 0.5, "type": "quantitative", "scale": {"domain": [0, 1]}, "axis": {"orient": "right", "offset": -867, "values": [0, 1], "ticks": true, "tickSize": 65, "tickWidth": 1.3, "tickColor": "#333333", "labels": false, "domain": false, "title": null}}}}
        ],
        "resolve": {"scale": {"y": "independent"}, "axis": {"y": "independent"}}
      }
    ],
    "spacing": 0, "bounds": "flush"
  },
  {
    "vconcat": [
      {"width": 120, "height": 77, "data": {"values": []}, "mark": "point"},
      {
        "width": 120, "height": 129,
        "view": {"stroke": "#555555", "strokeWidth": 1.3},
        "title": {"text": "LEYENDA", "anchor": "start", "frame": "group", "fontSize": 10.5, "fontWeight": "bold", "offset": 5, "dx": 3, "color": "#231f20"},
        "data": {"name": "leyenda"},
        "transform": [{"filter": "datum.seccion === 'fisicos'"}],
        "encoding": {"y": {"field": "fila", "type": "nominal", "scale": {"domain": ["Cambios físicos","aumento","disminución","aumento y disminución"], "paddingInner": 0, "paddingOuter": 0.389, "align": 0.286}, "axis": null}},
        "layer": [
          {"transform": [{"filter": "datum.tipo === 'titulo'"}], "mark": {"type": "text", "align": "left", "fontWeight": "bold", "fontSize": 12, "dx": 7}, "encoding": {"x": {"datum": "sw", "type": "nominal", "bandPosition": 0, "scale": {"type": "band", "domain": ["sw","lab"], "range": [0, 92], "paddingInner": 0, "paddingOuter": 0}, "axis": null}, "text": {"field": "texto", "type": "nominal"}}},
          {"transform": [{"filter": "datum.tipo === 'muestra'"}], "mark": {"type": "rect", "width": {"band": 0.717}}, "encoding": {"x": {"datum": "sw", "type": "nominal"}, "fill": {"field": "estado", "type": "nominal", "scale": {"domain": ["aumento","disminución","aumento y disminución","positivo","negativo","positivo y negativo","sin evaluación"], "range": ["#FDD569","#8EA973","#8EA973","#8AD4F2","#F07E97","#8AD4F2","#FFFFFF"]}, "legend": null}}},
          {"transform": [{"filter": {"field": "estado", "oneOf": ["aumento y disminución", "positivo y negativo"]}}], "mark": {"type": "point", "shape": "M-1,-0.82L1,-0.82L1,0.82Z", "size": 1089, "filled": true, "opacity": 1, "strokeWidth": 0}, "encoding": {"x": {"datum": "sw", "type": "nominal", "bandPosition": 0.5}, "color": {"field": "estado", "type": "nominal", "scale": {"domain": ["aumento y disminución", "positivo y negativo"], "range": ["#FDD569", "#F07E97"]}, "legend": null}}},
          {"transform": [{"filter": "datum.tipo === 'muestra'"}], "mark": {"type": "rect", "width": {"band": 0.717}, "fillOpacity": 0, "stroke": "#444444", "strokeWidth": 1.3}, "encoding": {"x": {"datum": "sw", "type": "nominal"}}},
          {"transform": [{"filter": "datum.tipo !== 'titulo'"}], "mark": {"type": "text", "align": "left", "fontSize": 12, "color": "#444444", "lineHeight": 13}, "encoding": {"x": {"datum": "lab", "type": "nominal", "bandPosition": 0}, "text": {"field": "texto", "type": "nominal"}}}
        ]
      },
      {
        "width": 120, "height": 131,
        "view": {"stroke": "#555555", "strokeWidth": 1.3},
        "data": {"name": "leyenda"},
        "transform": [{"filter": "datum.seccion === 'sistemas'"}],
        "encoding": {"y": {"field": "fila", "type": "nominal", "scale": {"domain": ["Sistemas","positivo","negativo","positivo y negativo"], "paddingInner": 0, "paddingOuter": 0.365, "align": 0.27}, "axis": null}},
        "layer": [
          {"transform": [{"filter": "datum.tipo === 'titulo'"}], "mark": {"type": "text", "align": "left", "fontWeight": "bold", "fontSize": 12, "dx": 7}, "encoding": {"x": {"datum": "sw", "type": "nominal", "bandPosition": 0, "scale": {"type": "band", "domain": ["sw","lab"], "range": [0, 92], "paddingInner": 0, "paddingOuter": 0}, "axis": null}, "text": {"field": "texto", "type": "nominal"}}},
          {"transform": [{"filter": "datum.tipo === 'muestra'"}], "mark": {"type": "rect", "width": {"band": 0.717}}, "encoding": {"x": {"datum": "sw", "type": "nominal"}, "fill": {"field": "estado", "type": "nominal", "scale": {"domain": ["aumento","disminución","aumento y disminución","positivo","negativo","positivo y negativo","sin evaluación"], "range": ["#FDD569","#8EA973","#8EA973","#8AD4F2","#F07E97","#8AD4F2","#FFFFFF"]}, "legend": null}}},
          {"transform": [{"filter": {"field": "estado", "oneOf": ["aumento y disminución", "positivo y negativo"]}}], "mark": {"type": "point", "shape": "M-1,-0.84L1,-0.84L1,0.84Z", "size": 1089, "filled": true, "opacity": 1, "strokeWidth": 0}, "encoding": {"x": {"datum": "sw", "type": "nominal", "bandPosition": 0.5}, "color": {"field": "estado", "type": "nominal", "scale": {"domain": ["aumento y disminución", "positivo y negativo"], "range": ["#FDD569", "#F07E97"]}, "legend": null}}},
          {"transform": [{"filter": "datum.tipo === 'muestra'"}], "mark": {"type": "rect", "width": {"band": 0.717}, "fillOpacity": 0, "stroke": "#444444", "strokeWidth": 1.3}, "encoding": {"x": {"datum": "sw", "type": "nominal"}}},
          {"transform": [{"filter": "datum.tipo !== 'titulo'"}], "mark": {"type": "text", "align": "left", "fontSize": 12, "color": "#444444", "lineHeight": 13}, "encoding": {"x": {"datum": "lab", "type": "nominal", "bandPosition": 0}, "text": {"field": "texto", "type": "nominal"}}}
        ]
      },
      {
        "width": 120, "height": 55,
        "view": {"stroke": "#555555", "strokeWidth": 1.3},
        "data": {"name": "leyenda"},
        "transform": [{"filter": "datum.seccion === 'sin'"}],
        "encoding": {"y": {"field": "fila", "type": "nominal", "scale": {"domain": ["sin evaluación"], "paddingInner": 0, "paddingOuter": 0.52, "align": 0.54}, "axis": null}},
        "layer": [
          {"mark": {"type": "rect", "width": {"band": 0.717}, "fill": "#FFFFFF", "stroke": "#444444", "strokeWidth": 1.3}, "encoding": {"x": {"datum": "sw", "type": "nominal", "scale": {"type": "band", "domain": ["sw","lab"], "range": [0, 92], "paddingInner": 0, "paddingOuter": 0}, "axis": null}}},
          {"mark": {"type": "text", "align": "left", "fontSize": 12, "color": "#444444", "lineHeight": 13}, "encoding": {"x": {"datum": "lab", "type": "nominal", "bandPosition": 0}, "text": {"field": "texto", "type": "nominal"}}}
        ]
      },
      {
        "width": 120, "height": 109,
        "view": {"stroke": "#555555", "strokeWidth": 1.3},
        "data": {"name": "leyenda"},
        "transform": [{"filter": "datum.seccion === 'confianza'"}, {"lookup": "confianza", "from": {"data": {"name": "niveles"}, "key": "confianza", "fields": ["puntos"]}}],
        "encoding": {"y": {"field": "fila", "type": "nominal", "scale": {"type": "band", "domain": ["Nivel de confianza de la atribución","alto","medio","bajo"], "paddingInner": 0, "paddingOuter": 0.595, "align": 0.86}, "axis": null}},
        "layer": [
          {"transform": [{"filter": "datum.tipo === 'titulo'"}], "mark": {"type": "text", "align": "left", "fontWeight": "bold", "fontSize": 11.5, "lineHeight": 14, "dx": 7, "dy": -16}, "encoding": {"x": {"datum": "sw", "type": "nominal", "bandPosition": 0, "scale": {"type": "band", "domain": ["sw","lab"], "range": [0, 92], "paddingInner": 0, "paddingOuter": 0}, "axis": null}, "text": {"field": "texto", "type": "nominal"}}},
          {"transform": [{"filter": "datum.tipo === 'nivel'"}], "mark": {"type": "text", "font": "DejaVu Sans", "fontSize": 10, "color": "#111111"}, "encoding": {"x": {"datum": "sw", "type": "nominal", "bandPosition": 0.5}, "text": {"field": "puntos", "type": "nominal"}}},
          {"transform": [{"filter": "datum.tipo === 'nivel'"}], "mark": {"type": "text", "align": "left", "fontSize": 12, "color": "#444444"}, "encoding": {"x": {"datum": "lab", "type": "nominal", "bandPosition": 0}, "text": {"field": "texto", "type": "nominal"}}}
        ]
      }
    ],
    "spacing": 0, "bounds": "flush"
  }
],
"spacing": 1,
"bounds": "full"
}
